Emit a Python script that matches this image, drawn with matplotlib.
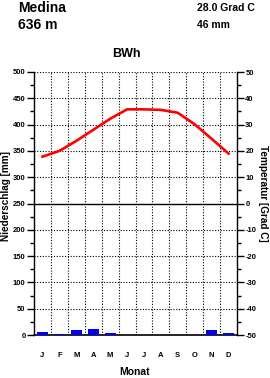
import matplotlib
matplotlib.use("Agg")
import matplotlib.pyplot as plt
import numpy as np

plt.rcParams['font.family'] = ['Liberation Sans', 'DejaVu Sans']
plt.rcParams['axes.unicode_minus'] = False

months = ['J', 'F', 'M', 'A', 'M', 'J', 'J', 'A', 'S', 'O', 'N', 'D']
precip = [6, 2, 9, 12, 4, 0, 0, 0, 0, 0, 9, 4]
temp = [17.8, 20.0, 23.8, 28.0, 32.2, 35.8, 35.8, 35.6, 34.5, 30.1, 24.6, 19.0]
station = 'Medina'
elevation = '636 m'
mean_temp = '28.0 Grad C'
total_precip = '46 mm'
climate = 'BWh'

fig = plt.figure(figsize=(2.7, 3.78), dpi=100)
ax = fig.add_axes([34/270, 1-335/378, 203/270, 263/378])
x = np.arange(12)

ax.bar(x, precip, width=0.65, color='#0000ff', zorder=3)
ax.set_xlim(-0.5, 11.5)
ax.set_ylim(0, 500)
ax.set_yticks(np.arange(0, 501, 50))
ax.set_yticks(np.arange(0, 501, 25), minor=True)
ax.set_xticks(x)
ax.set_xticklabels(months)
ax.tick_params(axis='x', which='both', length=0, labelsize=5.5, pad=12)
ax.tick_params(axis='y', which='major', length=5, width=1, labelsize=5.5, pad=1)
ax.tick_params(axis='y', which='minor', length=3, width=1)
for lab in ax.get_xticklabels() + ax.get_yticklabels():
    lab.set_fontweight('bold')

# grid
for v in np.arange(50, 501, 50):
    if v == 250:
        ax.axhline(v, color='black', lw=1.0, zorder=2)
    else:
        ax.axhline(v, color='black', lw=0.8, ls=(0, (1, 1.5)), zorder=2)
for b in np.arange(0.5, 11.5, 1):
    ax.axvline(b, color='black', lw=0.8, ls=(0, (1, 1.5)), zorder=2)

ax.spines['top'].set_visible(False)
ax.spines['right'].set_visible(False)
ax.spines['left'].set_linewidth(1)
ax.spines['bottom'].set_linewidth(1.2)

ax2 = ax.twinx()
ax2.plot(x, temp, color='#ff0000', lw=1.9, zorder=4)
ax2.set_ylim(-50, 50)
ax2.set_yticks(np.arange(-50, 51, 10))
ax2.set_yticks(np.arange(-50, 51, 5), minor=True)
ax2.tick_params(axis='y', which='major', length=5, width=1, labelsize=5.5, pad=1)
ax2.tick_params(axis='y', which='minor', length=3, width=1)
for lab in ax2.get_yticklabels():
    lab.set_fontweight('bold')
ax2.spines['top'].set_visible(False)
ax2.spines['left'].set_visible(False)
ax2.spines['bottom'].set_visible(False)
ax2.spines['right'].set_linewidth(1)

fig.text(6/270, 1-196/378, 'Niederschlag [mm]', rotation=90, ha='center', va='center',
         fontsize=7.2, fontweight='bold')
fig.text(263/270, 1-193/378, 'Temperatur [Grad C]', rotation=-90, ha='center', va='center',
         fontsize=7.2, fontweight='bold')
fig.text(135/270, 1-372/378, 'Monat', ha='center', va='center', fontsize=7.5, fontweight='bold')

fig.text(18/270, 1-8/378, station, ha='left', va='center', fontsize=10, fontweight='bold')
fig.text(18/270, 1-25/378, elevation, ha='left', va='center', fontsize=10, fontweight='bold')
fig.text(197/270, 1-8/378, mean_temp, ha='left', va='center', fontsize=7.5, fontweight='bold')
fig.text(197/270, 1-25/378, total_precip, ha='left', va='center', fontsize=7.5, fontweight='bold')
fig.text(126/270, 1-54/378, climate, ha='center', va='center', fontsize=9, fontweight='bold')

fig.savefig('out.png', dpi=100)
